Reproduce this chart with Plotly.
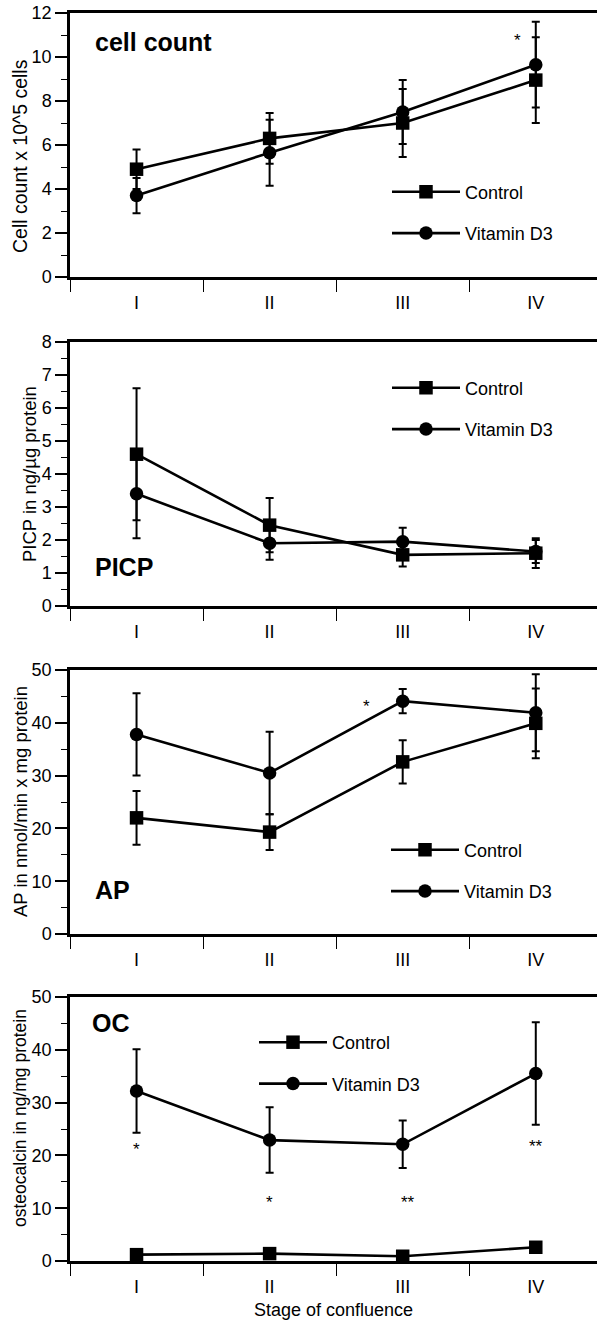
import plotly.graph_objects as go

stages = [1, 2, 3, 4]
stage_labels = ["I", "II", "III", "IV"]

# Panel 1: cell count
cc_ctrl = [4.9, 6.3, 7.0, 8.95]
cc_ctrl_err = [0.9, 1.15, 1.55, 1.95]
cc_vitd = [3.7, 5.65, 7.5, 9.65]
cc_vitd_err = [0.8, 1.5, 1.45, 1.95]

# Panel 2: PICP
picp_ctrl = [4.6, 2.45, 1.55, 1.6]
picp_ctrl_err = [2.0, 0.82, 0.35, 0.45]
picp_vitd = [3.4, 1.9, 1.95, 1.65]
picp_vitd_err = [1.35, 0.5, 0.42, 0.35]

# Panel 3: AP
ap_ctrl = [22.0, 19.3, 32.6, 39.9]
ap_ctrl_err = [5.1, 3.4, 4.1, 6.6]
ap_vitd = [37.8, 30.5, 44.1, 41.9]
ap_vitd_err = [7.8, 7.8, 2.3, 7.3]

# Panel 4: OC
oc_ctrl = [1.2, 1.4, 0.9, 2.6]
oc_ctrl_err = [0, 0, 0, 0]
oc_vitd = [32.2, 22.9, 22.1, 35.5]
oc_vitd_err = [7.9, 6.2, 4.5, 9.7]

# significance stars: (panel, x, y, text)
stars = [
    (1, 3.86, 11.0, "*"),
    (3, 2.73, 44.1, "*"),
    (4, 1.0, 22.1, "*"),
    (4, 2.0, 12.1, "*"),
    (4, 3.04, 12.0, "**"),
    (4, 4.0, 22.7, "**"),
]

panels = [
    dict(ctrl=cc_ctrl, ce=cc_ctrl_err, vitd=cc_vitd, ve=cc_vitd_err,
         yr=[0, 12], dt=2, mdt=1, title="cell count",
         ytitle="Cell count x 10^5 cells"),
    dict(ctrl=picp_ctrl, ce=picp_ctrl_err, vitd=picp_vitd, ve=picp_vitd_err,
         yr=[0, 8], dt=1, mdt=0.5, title="PICP",
         ytitle="PICP in ng/µg protein"),
    dict(ctrl=ap_ctrl, ce=ap_ctrl_err, vitd=ap_vitd, ve=ap_vitd_err,
         yr=[0, 50], dt=10, mdt=5, title="AP",
         ytitle="AP in nmol/min x mg protein"),
    dict(ctrl=oc_ctrl, ce=oc_ctrl_err, vitd=oc_vitd, ve=oc_vitd_err,
         yr=[0, 50], dt=10, mdt=5, title="OC",
         ytitle="osteocalcin in ng/mg protein"),
]

W, H = 597, 1323
ML, MR, MT, MB = 70, 0, 13, 62
PH = H - MT - MB
pw = W - ML - MR

# pixel tops/bottoms of each panel (layout only)
tops = [13, 342, 670, 997]
bots = [277, 606, 934, 1261]

def py(pix):
    return (H - MB - pix) / PH

def px(pix):
    return (pix - ML) / pw

FONT = "Liberation Sans, Arial, Helvetica, sans-serif"

fig = go.Figure()
layout = dict(
    width=W, height=H,
    margin=dict(l=ML, r=MR, t=MT, b=MB, autoexpand=False),
    paper_bgcolor="white", plot_bgcolor="white",
    font=dict(family=FONT, size=18, color="black"),
    annotations=[],
)

title_pos = [(0.044, 0.89), (0.044, 0.148), (0.044, 0.167), (0.038, 0.90)]
ytitle_x = [20, 29, 20, 20]
ytitle_yc = [156, 474, 802, 1118]
ytitle_size = [19.5, 18.5, 18.5, 17.5]
legend_pos = [(387, 212.5), (387, 408.5), (386, 870.5), (254, 1063)]

for i, p in enumerate(panels):
    n = i + 1
    xa = "x" if n == 1 else f"x{n}"
    ya = "y" if n == 1 else f"y{n}"
    lg = "legend" if n == 1 else f"legend{n}"
    for name, vals, errs, sym in [("Control", p["ctrl"], p["ce"], "square"),
                                   ("Vitamin D3", p["vitd"], p["ve"], "circle")]:
        fig.add_trace(go.Scatter(
            x=stages, y=vals, mode="lines+markers", name=name,
            xaxis=xa, yaxis=ya, legend=lg, legendgroup=f"{name}{n}",
            line=dict(color="black", width=2.6),
            marker=dict(symbol=sym, size=13.5, color="black"),
            error_y=dict(type="data", array=errs, symmetric=True,
                         color="black", thickness=2, width=4),
            cliponaxis=False,
        ))
    dom = [py(bots[i]), py(tops[i])]
    layout["xaxis" if n == 1 else f"xaxis{n}"] = dict(
        domain=[0, 1], anchor=ya, range=[0.5, 4.46],
        tickmode="array", tickvals=stages, ticktext=stage_labels,
        ticks="", ticklabelstandoff=8,
        tickfont=dict(size=18),
        showline=True, linecolor="black", linewidth=2.5, mirror=True,
        showgrid=False, zeroline=False, automargin=False,
        minor=dict(tickmode="array", tickvals=[0.5, 1.5, 2.5, 3.5],
                   ticks="outside", ticklen=12, tickwidth=1.2,
                   tickcolor="black", showgrid=False),
    )
    layout["yaxis" if n == 1 else f"yaxis{n}"] = dict(
        domain=dom, anchor=xa, range=p["yr"], dtick=p["dt"], tick0=0,
        ticks="outside", ticklen=12, tickwidth=1.5, tickcolor="black",
        tickfont=dict(size=18),
        showline=True, linecolor="black", linewidth=2.5,
        showgrid=False, zeroline=False, automargin=False,
        minor=dict(dtick=p["mdt"], ticks="outside", ticklen=6,
                   tickwidth=1.2, tickcolor="black", showgrid=False),
    )
    lx, lyc = legend_pos[i]
    layout[lg] = dict(
        x=px(lx), y=py(lyc), xanchor="left", yanchor="middle",
        bgcolor="rgba(0,0,0,0)", font=dict(size=18),
        itemwidth=68, tracegroupgap=15, traceorder="grouped",
    )
    tx, ty = title_pos[i]
    layout["annotations"].append(dict(
        text=f"<b>{p['title']}</b>", xref=f"{xa} domain", yref=f"{ya} domain",
        x=tx, y=ty, xanchor="left", yanchor="middle", showarrow=False,
        font=dict(size=25, family=FONT),
    ))
    layout["annotations"].append(dict(
        text=p["ytitle"], xref="paper", yref="paper",
        x=px(ytitle_x[i]), y=py(ytitle_yc[i]), xanchor="center", yanchor="middle",
        textangle=-90, showarrow=False, font=dict(size=ytitle_size[i]),
    ))

for (n, sx, sy, st) in stars:
    xa = "x" if n == 1 else f"x{n}"
    ya = "y" if n == 1 else f"y{n}"
    layout["annotations"].append(dict(
        text=st, xref=xa, yref=ya, x=sx, y=sy, showarrow=False,
        font=dict(size=17), yshift=-5,
    ))

layout["annotations"].append(dict(
    text="Stage of confluence", xref="paper", yref="paper",
    x=px(333), y=py(1310), xanchor="center", yanchor="middle",
    showarrow=False, font=dict(size=18),
))

fig.update_layout(**layout)
fig.update_layout(showlegend=True)
fig.write_html(
    "out.html",
    config={"displayModeBar": False},
    post_script="document.body.style.margin='0';document.body.style.padding='0';document.body.style.overflow='hidden';",
)
